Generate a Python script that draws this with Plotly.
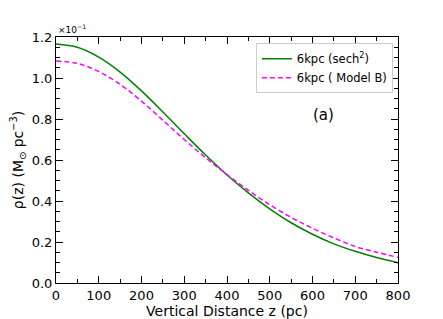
import plotly.graph_objects as go

z_pc = [0, 50, 100, 150, 200, 250, 300, 350, 400, 450, 500, 550, 600, 650, 700, 750, 800]
rho_sech2 = [1.166, 1.150, 1.102, 1.029, 0.937, 0.834, 0.728, 0.624, 0.527, 0.440, 0.362, 0.294, 0.238, 0.191, 0.155, 0.124, 0.099]
rho_modelB = [1.083, 1.071, 1.032, 0.969, 0.887, 0.794, 0.700, 0.611, 0.529, 0.452, 0.382, 0.320, 0.267, 0.220, 0.178, 0.150, 0.125]

x_ticks = [0, 100, 200, 300, 400, 500, 600, 700, 800]
y_ticks = [0.0, 0.2, 0.4, 0.6, 0.8, 1.0, 1.2]

FONT = "DejaVu Sans"

fig = go.Figure()
fig.add_trace(go.Scatter(x=z_pc, y=rho_sech2, mode="lines", line=dict(color="green", width=1.5, shape="spline"),
                         name="6kpc (sech<sup>2</sup>)"))
fig.add_trace(go.Scatter(x=z_pc, y=rho_modelB, mode="lines", line=dict(color="magenta", width=1.5, dash="5px,3px", shape="spline"),
                         name="6kpc ( Model B)"))

axis_common = dict(showline=True, linecolor="black", linewidth=1, mirror="ticks", ticks="inside",
                   ticklen=7, tickwidth=1.2, tickcolor="black", showgrid=False, zeroline=False,
                   automargin=False,
                   tickfont=dict(family=FONT, size=13, color="black"))

fig.update_xaxes(range=[0, 800], tickvals=x_ticks, minor=dict(ticks="inside", ticklen=4, dtick=50, tickcolor="black"),
                 title=dict(text="Vertical Distance z (pc)", font=dict(family=FONT, size=14, color="black"), standoff=2),
                 **axis_common)
fig.update_yaxes(range=[0, 1.2], tickvals=y_ticks, tickformat=".1f",
                 minor=dict(ticks="inside", ticklen=4, dtick=0.05, tickcolor="black"),
                 title=dict(text="ρ(z) (M<sub>⊙</sub> pc<sup>−3</sup>)", font=dict(family=FONT, size=14, color="black"), standoff=4),
                 **axis_common)

fig.add_annotation(x=0, y=1.0, xref="paper", yref="paper", text="×10<sup>−1</sup>", showarrow=False,
                   xanchor="left", yanchor="bottom", font=dict(family=FONT, size=9, color="black"))
fig.add_annotation(x=625, y=0.82, xref="x", yref="y", text="(a)", showarrow=False,
                   font=dict(family=FONT, size=15, color="black"))

fig.update_layout(
    width=435, height=311,
    margin=dict(l=48, r=45, t=29, b=36),
    paper_bgcolor="white", plot_bgcolor="white",
    showlegend=True,
    legend=dict(x=0.985, y=0.975, xanchor="right", yanchor="top", bgcolor="white",
                bordercolor="#cccccc", borderwidth=1, font=dict(family=FONT, size=11.5, color="black"),
                tracegroupgap=0, itemwidth=30),
)

fig.write_html("out.html")
